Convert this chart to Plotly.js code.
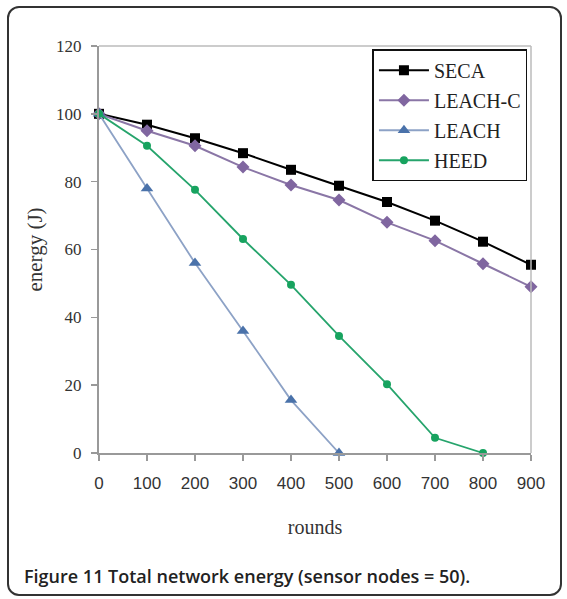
<!DOCTYPE html>
<html><head><meta charset="utf-8">
<script src="https://cdn.plot.ly/plotly-3.0.1.min.js"></script>
<style>
html,body{margin:0;padding:0;background:#fff;}
#wrap{position:relative;width:567px;height:599px;}
#chart{position:absolute;left:0;top:0;width:567px;height:599px;}
#frame{position:absolute;left:7px;top:6px;width:551px;height:586px;border:2px solid #333;border-radius:12px;pointer-events:none;}
</style></head>
<body><div id="wrap"><div id="chart"></div><div id="frame"></div></div>
<script>
const rounds = [0,100,200,300,400,500,600,700,800,900];
const seca   = [100,96.8,92.8,88.4,83.5,78.8,74,68.5,62.3,55.5];
const leachC = [100,95,90.6,84.3,79,74.6,68,62.6,55.8,49];
const leachX = [0,100,200,300,400,500];
const leach  = [100,78,56,36,15.6,0];
const heedX  = [0,100,200,300,400,500,600,700,800];
const heed   = [100,90.6,77.6,63.1,49.6,34.5,20.3,4.5,0];
const yTicks = [0,20,40,60,80,100,120];
const caption = "Figure 11 Total network energy (sensor nodes = 50).";

const traces = [
 {x:rounds,y:seca,name:'SECA',legendgroup:'a',mode:'lines+markers',line:{color:'#000',width:2},marker:{symbol:'square',size:10,color:'#000'},cliponaxis:false},
 {x:rounds,y:leachC,name:'LEACH-C',legendgroup:'b',mode:'lines+markers',line:{color:'#8a76a6',width:2},marker:{symbol:'diamond',size:10,color:'#8066a0'},cliponaxis:false},
 {x:leachX,y:leach,name:'LEACH',legendgroup:'c',mode:'lines+markers',line:{color:'#8da2c6',width:1.8},marker:{symbol:'triangle-up',size:11,color:'#4a72aa'},cliponaxis:false},
 {x:heedX,y:heed,name:'HEED',legendgroup:'d',mode:'lines+markers',line:{color:'#26a46c',width:1.8},marker:{symbol:'circle',size:8,color:'#17a35f'},cliponaxis:false}
];
const serif = 'Liberation Serif, Times New Roman, serif';
const layout = {
 width:567,height:599,
 margin:{l:99,r:36,t:46,b:146},
 paper_bgcolor:'#fff',plot_bgcolor:'#fff',
 showlegend:true,
 legend:{x:0.633,y:0.992,xanchor:'left',yanchor:'top',bgcolor:'#fff',bordercolor:'#111',borderwidth:1.5,
   font:{family:serif,size:20,color:'#222'},tracegroupgap:1,itemwidth:50},
 xaxis:{range:[0,900],tickvals:rounds,ticks:'outside',ticklen:6,tickcolor:'#999',tickwidth:1.5,
   showline:true,linecolor:'#999',linewidth:2,mirror:false,showgrid:false,zeroline:false,
   tickfont:{family:'Liberation Sans Narrow, Liberation Sans, sans-serif',size:17,color:'#333'},
   ticklabelstandoff:8,
   title:{text:'rounds',font:{family:serif,size:20,color:'#333'},standoff:28}},
 yaxis:{range:[0,120],tickvals:yTicks,ticks:'outside',ticklen:6,tickcolor:'#999',tickwidth:1.5,
   showline:true,linecolor:'#999',linewidth:2,showgrid:false,zeroline:false,
   tickfont:{family:serif,size:17,color:'#333'},ticklabelstandoff:6,
   title:{text:'energy (J)',font:{family:serif,size:21,color:'#333'},standoff:8}},
 shapes:[
  {type:'line',xref:'paper',yref:'paper',x0:0,x1:1,y0:1,y1:1,line:{color:'#bbb',width:1.5}},
  {type:'line',xref:'paper',yref:'paper',x0:1,x1:1,y0:0,y1:1,line:{color:'#bbb',width:1.5}}
 ],
 annotations:[{text:caption,xref:'paper',yref:'paper',x:-0.178,y:-0.301,xanchor:'left',yanchor:'middle',showarrow:false,
   font:{family:'Open Sans, Noto Sans, sans-serif',size:18,weight:600,color:'#222'}}]
};
Plotly.newPlot('chart',traces,layout,{displayModeBar:false,staticPlot:true});
</script></body></html>
